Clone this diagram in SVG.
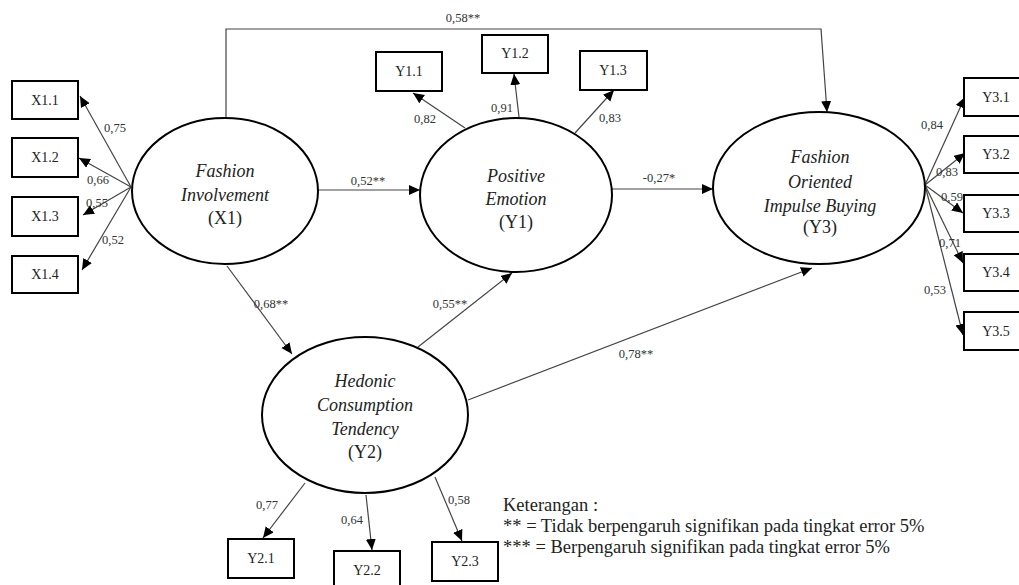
<svg xmlns="http://www.w3.org/2000/svg" width="1019" height="585" viewBox="0 0 1019 585">
  <defs>
    <marker id="arrow" markerUnits="userSpaceOnUse" markerWidth="12" markerHeight="12" refX="11" refY="5" orient="auto">
      <path d="M0,0 L11,5 L0,10 z" fill="#000"/>
    </marker>
    <style>
      .latent { fill: #fff; stroke: #000; stroke-width: 2; }
      .ind { fill: #fff; stroke: #000; stroke-width: 2; }
      .conn { fill: none; stroke: #444; stroke-width: 1.2; marker-end: url(#arrow); }
      .lt { font-family: "Liberation Serif", serif; font-style: italic; font-size: 18px; fill: #222; text-anchor: middle; }
      .lc { font-family: "Liberation Serif", serif; font-size: 18px; fill: #222; text-anchor: middle; }
      .bx { font-family: "Liberation Serif", serif; font-size: 14px; fill: #222; text-anchor: middle; }
      .coef { font-family: "Liberation Serif", serif; font-size: 12.5px; fill: #333; text-anchor: middle; }
      .note { font-family: "Liberation Serif", serif; font-size: 18.5px; fill: #222; }
    </style>
  </defs>
  <rect width="1019" height="585" fill="#fff"/>

  <!-- connectors: loadings and structural paths -->
  <g id="connectors">
    <!-- X1 loadings -->
    <line class="conn" x1="131" y1="187" x2="80" y2="96"/>
    <line class="conn" x1="131" y1="187" x2="79" y2="158"/>
    <line class="conn" x1="131" y1="187" x2="83" y2="215"/>
    <line class="conn" x1="131" y1="187" x2="82" y2="270"/>
    <!-- Y1 loadings -->
    <line class="conn" x1="465" y1="128" x2="413" y2="93"/>
    <line class="conn" x1="519" y1="117" x2="514" y2="74"/>
    <line class="conn" x1="575" y1="133" x2="614" y2="90"/>
    <!-- Y3 loadings -->
    <line class="conn" x1="925" y1="185" x2="965" y2="97"/>
    <line class="conn" x1="925" y1="185" x2="965" y2="153"/>
    <line class="conn" x1="925" y1="185" x2="963" y2="213"/>
    <line class="conn" x1="925" y1="185" x2="963" y2="263"/>
    <line class="conn" x1="925" y1="185" x2="963" y2="335"/>
    <!-- Y2 loadings -->
    <line class="conn" x1="305" y1="483" x2="263" y2="538"/>
    <line class="conn" x1="366" y1="495" x2="372" y2="550"/>
    <line class="conn" x1="435" y1="477" x2="462" y2="541"/>
    <!-- structural paths -->
    <path class="conn" d="M226,118 L226,29 L821,29 L827,112"/>
    <line class="conn" x1="318" y1="190" x2="420" y2="190"/>
    <line class="conn" x1="612" y1="189" x2="713" y2="189"/>
    <line class="conn" x1="227" y1="266" x2="292" y2="354"/>
    <line class="conn" x1="418" y1="347" x2="512" y2="273"/>
    <line class="conn" x1="468" y1="400" x2="812" y2="268"/>
  </g>

  <!-- path coefficients -->
  <g id="coefficients">
    <text class="coef" x="115" y="132">0,75</text>
    <text class="coef" x="98" y="184">0,66</text>
    <text class="coef" x="97" y="207">0,55</text>
    <text class="coef" x="113" y="244">0,52</text>
    <text class="coef" x="425" y="123">0,82</text>
    <text class="coef" x="502" y="112">0,91</text>
    <text class="coef" x="610" y="122">0,83</text>
    <text class="coef" x="463" y="22">0,58**</text>
    <text class="coef" x="368" y="185">0,52**</text>
    <text class="coef" x="659" y="182">-0,27*</text>
    <text class="coef" x="271" y="308">0,68**</text>
    <text class="coef" x="450" y="308">0,55**</text>
    <text class="coef" x="636" y="358">0,78**</text>
    <text class="coef" x="267" y="509">0,77</text>
    <text class="coef" x="352" y="524">0,64</text>
    <text class="coef" x="459" y="504">0,58</text>
    <text class="coef" x="932" y="129">0,84</text>
    <text class="coef" x="947" y="176">0,83</text>
    <text class="coef" x="952" y="201">0,59</text>
    <text class="coef" x="950" y="247">0,71</text>
    <text class="coef" x="935" y="294">0,53</text>
  </g>

  <!-- latent constructs -->
  <g id="X1">
    <ellipse class="latent" cx="225" cy="191" rx="93" ry="73"/>
    <text class="lt" x="225" y="177">Fashion</text>
    <text class="lt" x="225" y="201">Involvement</text>
    <text class="lc" x="225" y="224">(X1)</text>
  </g>
  <g id="Y1">
    <ellipse class="latent" cx="516" cy="195" rx="96" ry="77"/>
    <text class="lt" x="516" y="182">Positive</text>
    <text class="lt" x="516" y="205">Emotion</text>
    <text class="lc" x="516" y="228">(Y1)</text>
  </g>
  <g id="Y3">
    <ellipse class="latent" cx="819" cy="188" rx="106" ry="76"/>
    <text class="lt" x="820" y="163">Fashion</text>
    <text class="lt" x="820" y="188">Oriented</text>
    <text class="lt" x="820" y="212">Impulse Buying</text>
    <text class="lc" x="820" y="233">(Y3)</text>
  </g>
  <g id="Y2">
    <ellipse class="latent" cx="365" cy="415" rx="103" ry="78"/>
    <text class="lt" x="365" y="387">Hedonic</text>
    <text class="lt" x="365" y="411">Consumption</text>
    <text class="lt" x="365" y="435">Tendency</text>
    <text class="lc" x="365" y="458">(Y2)</text>
  </g>

  <!-- indicators -->
  <g id="X1.1"><rect class="ind" x="12" y="81" width="66" height="38"/><text class="bx" x="45" y="105">X1.1</text></g>
  <g id="X1.2"><rect class="ind" x="12" y="138" width="66" height="39"/><text class="bx" x="45" y="162">X1.2</text></g>
  <g id="X1.3"><rect class="ind" x="12" y="197" width="66" height="39"/><text class="bx" x="45" y="221">X1.3</text></g>
  <g id="X1.4"><rect class="ind" x="12" y="256" width="66" height="37"/><text class="bx" x="45" y="279">X1.4</text></g>

  <g id="Y1.1"><rect class="ind" x="376" y="52" width="66" height="39"/><text class="bx" x="409" y="76">Y1.1</text></g>
  <g id="Y1.2"><rect class="ind" x="482" y="35" width="66" height="38"/><text class="bx" x="515" y="58">Y1.2</text></g>
  <g id="Y1.3"><rect class="ind" x="580" y="51" width="67" height="39"/><text class="bx" x="613" y="75">Y1.3</text></g>

  <g id="Y2.1"><rect class="ind" x="228" y="539" width="66" height="39"/><text class="bx" x="261" y="563">Y2.1</text></g>
  <g id="Y2.2"><rect class="ind" x="334" y="551" width="66" height="38"/><text class="bx" x="367" y="575">Y2.2</text></g>
  <g id="Y2.3"><rect class="ind" x="432" y="542" width="66" height="39"/><text class="bx" x="465" y="566">Y2.3</text></g>

  <g id="Y3.1"><rect class="ind" x="964" y="78" width="66" height="38"/><text class="bx" x="996" y="102">Y3.1</text></g>
  <g id="Y3.2"><rect class="ind" x="964" y="136" width="66" height="37"/><text class="bx" x="996" y="159">Y3.2</text></g>
  <g id="Y3.3"><rect class="ind" x="964" y="195" width="66" height="37"/><text class="bx" x="996" y="218">Y3.3</text></g>
  <g id="Y3.4"><rect class="ind" x="964" y="254" width="66" height="37"/><text class="bx" x="996" y="277">Y3.4</text></g>
  <g id="Y3.5"><rect class="ind" x="964" y="312" width="66" height="38"/><text class="bx" x="996" y="336">Y3.5</text></g>

  <!-- legend -->
  <g id="legend">
    <text class="note" x="503" y="511">Keterangan :</text>
    <text class="note" x="503" y="532">** = Tidak berpengaruh signifikan pada tingkat error 5%</text>
    <text class="note" x="503" y="553">*** = Berpengaruh signifikan pada tingkat error 5%</text>
  </g>
</svg>
